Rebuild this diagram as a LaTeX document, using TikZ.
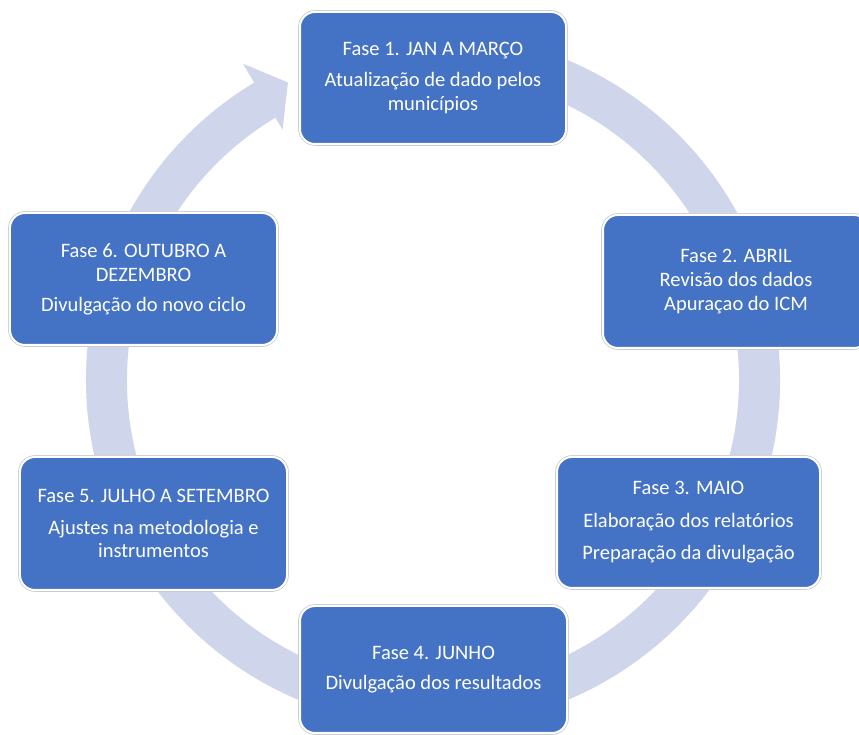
\documentclass[tikz,border=0pt]{standalone}
\usepackage{fontspec}
\setmainfont{Carlito}
\usetikzlibrary{calc}
\definecolor{boxblue}{HTML}{4472C4}
\definecolor{ringcol}{HTML}{CFD5EA}
\begin{document}
\begin{tikzpicture}[x=1bp,y=1bp,
  phase/.style={rectangle, rounded corners=15bp, fill=boxblue, draw=white,
    line width=2bp, preaction={draw=black!20, line width=3.6bp},
    text=white, align=center, inner sep=0pt,
    font=\fontsize{20.6}{24}\selectfont},
  ringshape/.style={fill=ringcol}]
\useasboundingbox (0,0) rectangle (859,735);
\clip (0,0) rectangle (859,735);
\fill[white] (0,0) rectangle (859,735);
\coordinate (C) at (433,355);
% circular arrow
\fill[ringshape] ($(C)+(100:347bp)$) arc[start angle=100, end angle=-239, radius=347bp]
  -- ($(C)+(-239:369bp)$) -- ($(C)+(-244:331bp)$) -- ($(C)+(-239:292bp)$)
  -- ($(C)+(-239:306bp)$) arc[start angle=-239, end angle=100, radius=306bp] -- cycle;
% phases
\node[phase, minimum width=266bp, minimum height=132bp] (f1) at (433,657)
  {Fase 1. JAN A MARÇO\\[8bp]Atualização de dado pelos\\municípios};
\node[phase, minimum width=266bp, minimum height=133bp] (f2) at (736,453.5)
  {Fase 2. ABRIL\\Revisão dos dados\\Apuraçao do ICM};
\node[phase, minimum width=263bp, minimum height=131bp] (f3) at (688.5,212.5)
  {Fase 3. MAIO\\[9bp]Elaboração dos relatórios\\[8bp]Preparação da divulgação};
\node[phase, minimum width=267bp, minimum height=127bp] (f4) at (433.5,65.5)
  {Fase 4. JUNHO\\[6bp]Divulgação dos resultados};
\node[phase, minimum width=267bp, minimum height=133bp] (f5) at (153.5,211.5)
  {Fase 5. JULHO A SETEMBRO\\[8bp]Ajustes na metodologia e\\instrumentos};
\node[phase, minimum width=267bp, minimum height=132bp] (f6) at (143.5,456)
  {Fase 6. OUTUBRO A\\DEZEMBRO\\[6bp]Divulgação do novo ciclo};
\end{tikzpicture}
\end{document}
